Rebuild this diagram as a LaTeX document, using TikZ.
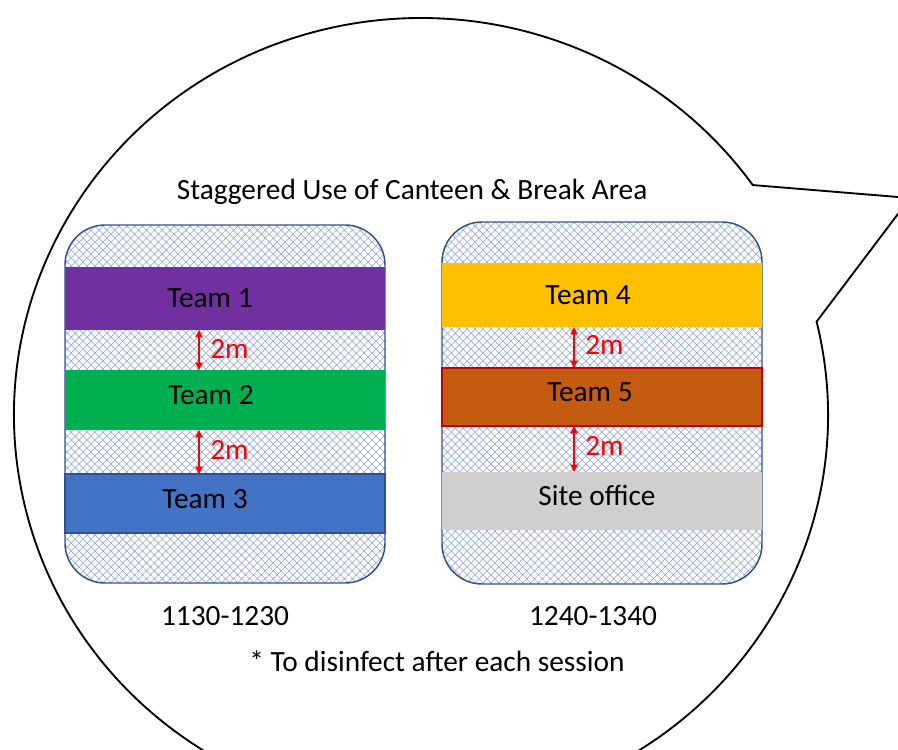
\documentclass[tikz,border=0pt]{standalone}
\usepackage{fontspec}
\setmainfont{Carlito}
\usetikzlibrary{patterns.meta,calc,arrows.meta}
\definecolor{hatchblue}{RGB}{135,160,218}
\definecolor{boxedge}{RGB}{47,82,143}
\definecolor{tpurple}{RGB}{112,48,160}
\definecolor{tgreen}{RGB}{0,176,80}
\definecolor{tblue}{RGB}{68,114,196}
\definecolor{tyellow}{RGB}{255,192,0}
\definecolor{torange}{RGB}{197,90,17}
\definecolor{tgrey}{RGB}{208,206,206}
\definecolor{tred}{RGB}{192,0,0}
\begin{document}
\begin{tikzpicture}[x=0.75pt,y=-0.75pt,
  txt/.style={font=\fontsize{22}{26}\selectfont, inner sep=0pt, text=black, anchor=base},
  lbl2m/.style={font=\fontsize{22}{26}\selectfont, inner sep=0pt, text=red, anchor=base west},
  area/.style={draw=boxedge, line width=1.1pt, rounded corners=30pt,
    preaction={fill=white}, pattern={Hatch[angle=45,distance=4.2pt,line width=0.4pt]}, pattern color=hatchblue},
  band/.style={draw=none, minimum width=240pt, inner sep=0pt, outer sep=0pt},
  bubble/.style={draw=black, line width=1.4pt, line join=miter},
  dim/.style={draw=red, line width=0.9pt, {Triangle[width=5.5pt,length=5.5pt]}-{Triangle[width=5.5pt,length=5.5pt]}}
]
\useasboundingbox (0,0) rectangle (898,749);
\clip (0,0) rectangle (898,749);

% speech bubble
\coordinate (E) at (421,415);
\coordinate (P1) at ($(E)+(-35.4:407 and 397)$);
\coordinate (P2) at ($(E)+(-13.6:407 and 397)$);
\coordinate (tip) at (910,198);
\draw[bubble] (P2) arc[start angle=-13.6, end angle=324.6, x radius=407, y radius=397] -- (tip) -- cycle;

% title
\node[txt] (title) at (412,199) {Staggered Use of Canteen \& Break Area};

% left area
\path[area] (65,225) rectangle (385,583);
\node[band, fill=tpurple, minimum height=47.25pt] (b1) at (225,298.5) {};
\node[band, fill=tgreen, minimum height=45pt] (b2) at (225,400) {};
\node[band, fill=tblue, draw=boxedge, line width=1pt, minimum height=44.25pt] (b3) at (225,503.5) {};
\node[txt] (t1) at (210,307) {Team 1};
\node[txt] (t2) at (211,404) {Team 2};
\node[txt] (t3) at (205,508) {Team 3};

% right area
\path[area] (442,222) rectangle (762,584);
\node[band, fill=tyellow, minimum height=48pt] (b4) at (602,295) {};
\node[band, fill=torange, draw=tred, line width=1pt, minimum height=43.5pt] (b5) at (602,397) {};
\node[band, fill=tgrey, minimum height=43.5pt] (b6) at (602,501) {};
\node[txt] (t4) at (588,304) {Team 4};
\node[txt] (t5) at (590,401) {Team 5};
\node[txt] (t6) at (597,505) {Site office};

% 2m dimension arrows
\coordinate (axL) at (199,0);
\coordinate (axR) at (574,0);
\draw[dim] (b1.south -| axL) -- (b2.north -| axL);
\draw[dim] (b2.south -| axL) -- (b3.north -| axL);
\draw[dim] (b4.south -| axR) -- (b5.north -| axR);
\draw[dim] (b5.south -| axR) -- (b6.north -| axR);
\node[lbl2m] (d1) at (210,358) {2m};
\node[lbl2m] (d2) at (210,459) {2m};
\node[lbl2m] (d3) at (585,354) {2m};
\node[lbl2m] (d4) at (585,455) {2m};

% times and note
\node[txt] (s1) at (225,625) {1130-1230};
\node[txt] (s2) at (593,625) {1240-1340};
\node[txt] (note) at (437,671) {* To disinfect after each session};
\end{tikzpicture}
\end{document}
